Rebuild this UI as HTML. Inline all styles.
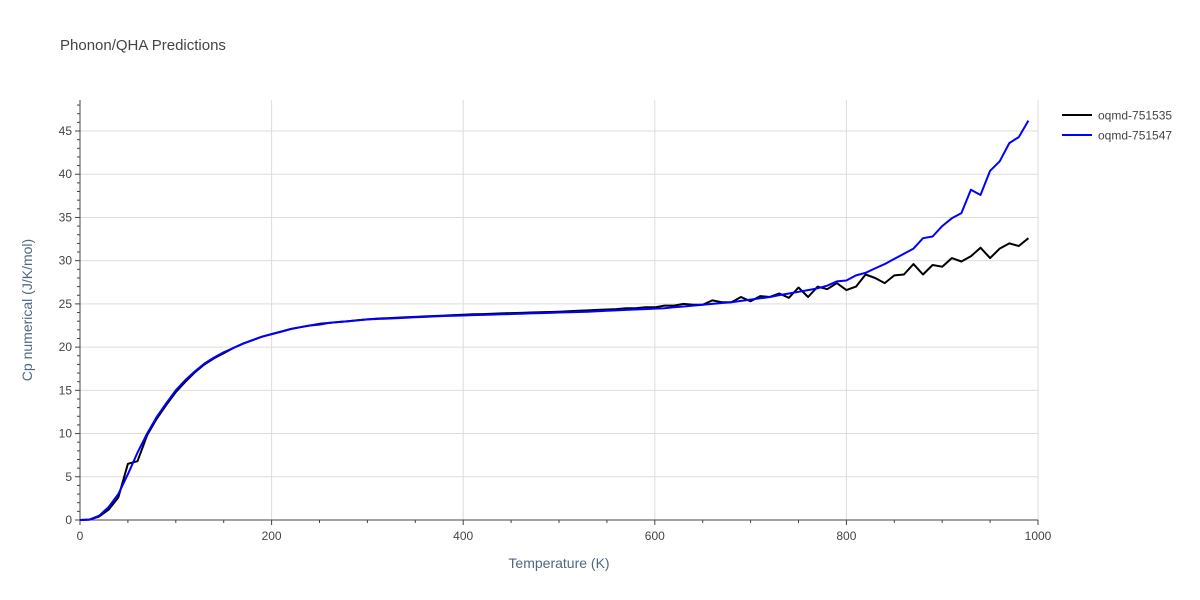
<!DOCTYPE html>
<html><head><meta charset="utf-8"><style>
body{margin:0;background:#fff;}
svg{display:block;font-family:"Liberation Sans",sans-serif;}
</style></head><body>
<svg id="chart" width="1200" height="600">
<text x="60" y="50" font-size="15" fill="#444">Phonon/QHA Predictions</text>
<g id="grid"></g><g id="axes"></g><g id="series"></g>
<text x="559" y="568" font-size="14" fill="#506784" text-anchor="middle">Temperature (K)</text>
<text transform="translate(32,310) rotate(-90)" font-size="14" fill="#506784" text-anchor="middle">Cp numerical (J/K/mol)</text>
<g>
<g><line x1="1062" y1="115" x2="1092" y2="115" stroke="#000" stroke-width="2"/><text x="1098" y="119.5" font-size="12" fill="#444">oqmd-751535</text></g>
<g><line x1="1062" y1="135" x2="1092" y2="135" stroke="#0000ff" stroke-width="2"/><text x="1098" y="139.5" font-size="12" fill="#444">oqmd-751547</text></g>
</g>
</svg>
<script>
const temps = Array.from({length:100},(_,i)=>i*10);
const seriesA = [0,0.05,0.4,1.2,2.6,6.5,6.8,9.8,11.7,13.3,
14.8,16.0,17.1,18.0,18.7,19.3,19.9,20.4,20.8,21.2,
21.5,21.8,22.1,22.3,22.5,22.7,22.8,22.9,23.0,23.1,
23.2,23.3,23.35,23.4,23.45,23.5,23.55,23.6,23.65,23.7,
23.75,23.8,23.82,23.85,23.9,23.93,23.96,24.0,24.03,24.06,
24.1,24.15,24.2,24.25,24.3,24.35,24.4,24.5,24.5,24.6,
24.6,24.8,24.8,25.0,24.9,24.9,25.4,25.2,25.2,25.8,
25.3,25.9,25.8,26.2,25.7,26.9,25.8,27.0,26.7,27.4,
26.6,27.0,28.4,28.0,27.4,28.3,28.4,29.6,28.4,29.5,
29.3,30.3,29.9,30.5,31.5,30.3,31.4,32.0,31.7,32.6];
const seriesB = [0,0.05,0.5,1.5,3.0,5.3,7.8,10.0,11.9,13.5,
15.0,16.2,17.2,18.1,18.8,19.4,19.9,20.4,20.8,21.2,
21.5,21.8,22.1,22.3,22.5,22.6,22.8,22.9,23.0,23.1,
23.2,23.25,23.3,23.35,23.4,23.45,23.5,23.55,23.6,23.63,
23.66,23.7,23.73,23.76,23.8,23.83,23.86,23.9,23.93,23.96,
24.0,24.03,24.06,24.1,24.15,24.2,24.25,24.3,24.35,24.4,
24.45,24.5,24.6,24.7,24.8,24.9,25.0,25.1,25.2,25.35,
25.5,25.65,25.8,26.0,26.2,26.4,26.6,26.8,27.1,27.6,
27.7,28.3,28.6,29.1,29.6,30.2,30.8,31.4,32.6,32.8,
34.0,34.9,35.5,38.2,37.6,40.4,41.5,43.6,44.3,46.2];
const xTicks = [0,200,400,600,800,1000];
const yTicks = [0,5,10,15,20,25,30,35,40,45];
const NS="http://www.w3.org/2000/svg";
const X0=80,X1=1038,Y0=520,Y1=100;
const xs=v=>X0+(X1-X0)*v/1000;
const ys=v=>Y0-v*(389/45);
function mk(tag,attrs,parent){const e=document.createElementNS(NS,tag);for(const k in attrs)e.setAttribute(k,attrs[k]);parent.appendChild(e);return e;}
const grid=document.getElementById('grid'),axes=document.getElementById('axes'),ser=document.getElementById('series');
xTicks.forEach(t=>{
  if(t>0){const l=mk('line',{x1:xs(t),x2:xs(t),y1:Y1,y2:Y0,stroke:'#ddd'},grid);
  
  }
  const tx=mk('text',{x:xs(t),y:Y0+20,'font-size':12,fill:'#444','text-anchor':'middle'},axes);
  tx.textContent=t;
  
  
});
yTicks.forEach(t=>{
  if(t>0){const l=mk('line',{x1:X0,x2:X1,y1:ys(t),y2:ys(t),stroke:'#ddd'},grid);
  
  }
  const tx=mk('text',{x:X0-8,y:ys(t)+4,'font-size':12,fill:'#444','text-anchor':'end'},axes);
  tx.textContent=t;
  
  
});
for(let v=0;v<=48;v++){const len=v%5===0?5:3;mk('line',{x1:X0-len,x2:X0,y1:ys(v),y2:ys(v),stroke:'#444'},axes);}
for(let t=0;t<=1000;t+=50){const len=t%200===0?5:3;mk('line',{x1:xs(t),x2:xs(t),y1:Y0,y2:Y0+len,stroke:'#444'},axes);}
const ya=mk('line',{x1:X0,x2:X0,y1:Y1,y2:Y0,stroke:'#444'},axes);


const xa=mk('line',{x1:X0,x2:X1,y1:Y0,y2:Y0,stroke:'#444'},axes);


function line(vals,color,name){
  const d=vals.map((v,i)=>(i?'L':'M')+xs(temps[i]).toFixed(1)+','+ys(v).toFixed(1)).join('');
  const p=mk('path',{d:d,fill:'none',stroke:color,'stroke-width':2,'stroke-linejoin':'round'},ser);
  
  
}
line(seriesA,'#000','line-oqmd-751535');
line(seriesB,'#0000ff','line-oqmd-751547');
</script>
</body></html>
